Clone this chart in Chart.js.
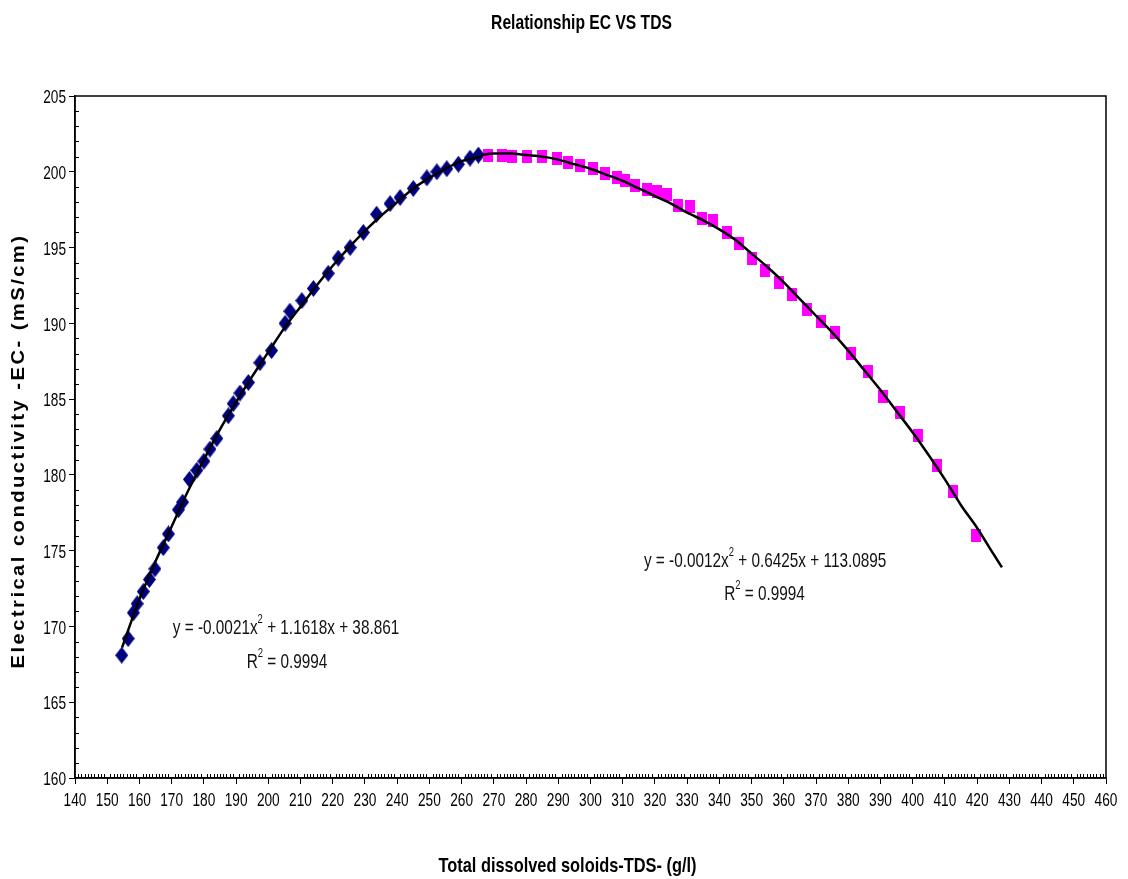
<!DOCTYPE html>
<html>
<head>
<meta charset="utf-8">
<script src="https://cdn.jsdelivr.net/npm/chart.js@4/dist/chart.umd.min.js"></script>
<style>
html,body{margin:0;padding:0;background:#fff;}
#wrap{width:1128px;height:879px;}
</style>
</head>
<body>
<div id="wrap"><canvas id="c" width="1128" height="879"></canvas></div>
<script>
// ---- data ----
const blueTDS = [154.5,156.5,158.1,159.3,161.2,163.1,164.8,167.4,169.0,172.1,173.4,175.5,177.8,180.0,181.9,184.0,187.6,189.1,191.2,193.8,197.4,201.0,205.2,206.7,210.4,214.0,218.6,221.7,225.4,229.5,233.6,237.8,240.9,245.0,249.2,252.3,255.4,259.0,262.6,265.2];
const blueEC  = [168.1,169.2,170.9,171.5,172.3,173.1,173.8,175.2,176.1,177.7,178.2,179.7,180.3,180.9,181.7,182.4,183.9,184.7,185.4,186.1,187.4,188.2,190.0,190.8,191.5,192.3,193.3,194.3,195.0,196.0,197.2,197.9,198.3,198.9,199.6,200.0,200.2,200.5,200.9,201.1];

const pinkTDS = [268.2,272.5,275.6,280.3,284.9,289.6,293.0,296.7,300.8,304.5,308.2,310.7,313.8,317.5,320.6,323.7,327.1,330.9,334.6,338.0,342.4,346.1,350.1,354.2,358.5,362.5,367.2,371.5,375.9,380.8,386.1,390.8,396.0,401.6,407.5,412.5,419.6];
const pinkEC  = [201.1,201.1,201.0,201.0,201.0,200.9,200.6,200.4,200.2,199.9,199.6,199.4,199.1,198.8,198.7,198.5,197.8,197.7,196.9,196.8,196.0,195.3,194.3,193.5,192.7,191.9,190.9,190.1,189.4,188.0,186.8,185.2,184.1,182.6,180.6,178.9,176.0];

// trend lines as traced on the picture
const trendLeftTDS  = [154.6,160,165,170,175,180,185,190,195,200,205,210,215,220,225,230,235,240,245,250,255,260,266];
const trendLeftEC   = [168.6,171.8,174.3,176.6,178.9,181.0,183.0,184.8,186.5,188.1,189.7,191.1,192.5,193.8,195.0,196.1,197.1,198.0,198.9,199.6,200.2,200.7,201.0];
const trendRightTDS = [266,270,275,280,285,290,295,300,305,310,315,320,325,330,335,340,345,350,355,360,365,370,375,380,385,390,395,400,405,410,415,420,425,427.7];
const trendRightEC  = [201.1,201.2,201.2,201.1,201.0,200.8,200.5,200.2,199.8,199.4,198.9,198.4,197.9,197.3,196.8,196.2,195.5,194.6,193.7,192.7,191.6,190.5,189.4,188.2,186.9,185.6,184.2,182.8,181.3,179.7,178.0,176.5,174.8,173.9];

const xTickValues = [140,150,160,170,180,190,200,210,220,230,240,250,260,270,280,290,300,310,320,330,340,350,360,370,380,390,400,410,420,430,440,450,460];
const yTickValues = [160,165,170,175,180,185,190,195,200,205];

const titleText  = 'Relationship EC VS TDS';
const xTitleText = 'Total dissolved soloids-TDS- (g/l)';
const yTitleText = 'Electrical conductivity -EC- (mS/cm)';
const eqLeft  = [['y = -0.0021x','2',' + 1.1618x + 38.861'], ['R','2',' = 0.9994']];
const eqRight = [['y = -0.0012x','2',' + 0.6425x + 113.0895'], ['R','2',' = 0.9994']];

// ---- styling / layout ----
const FONT = '"Liberation Sans", Arial, sans-serif';
const eqAnchors = [
  {lines: eqLeft,  at: [[205.5,169.9],[205.8,167.65]]},
  {lines: eqRight, at: [[354.2,174.3],[354.0,172.1]]}
];

function toPts(xs, ys){ return xs.map((v,i)=>({x:v, y:ys[i]})); }

function makeDiamond(w,h,color){
  const c=document.createElement('canvas'); c.width=w; c.height=h;
  const g=c.getContext('2d'); g.fillStyle=color; g.beginPath();
  g.moveTo(w/2,0); g.lineTo(w,h/2); g.lineTo(w/2,h); g.lineTo(0,h/2); g.closePath(); g.fill();
  return c;
}
function makeRect(w,h,color){
  const c=document.createElement('canvas'); c.width=w; c.height=h;
  const g=c.getContext('2d'); g.fillStyle=color; g.fillRect(0,0,w,h);
  return c;
}
const diamond = makeDiamond(13,17,'#000080');
const square  = makeRect(10,13,'#FF00FF');

// draw text squeezed horizontally (the reference uses a tall narrow face)
function sText(ctx, text, x, y, font, sx, align){
  ctx.save();
  ctx.font = font;
  ctx.translate(x, y);
  ctx.scale(sx, 1);
  ctx.textAlign = align || 'center';
  ctx.textBaseline = 'middle';
  ctx.fillText(text, 0, 0);
  ctx.restore();
}
// piecewise text with superscript pieces (odd index)
function eqText(ctx, parts, cx, cy, size, sx){
  ctx.save();
  const main = size+'px '+FONT, sup = Math.round(size*0.62)+'px '+FONT;
  let total = 0;
  parts.forEach((p,i)=>{ ctx.font = (i%2)? sup : main; total += ctx.measureText(p).width; });
  let x = cx - total*sx/2;
  parts.forEach((p,i)=>{
    ctx.font = (i%2)? sup : main;
    const w = ctx.measureText(p).width;
    ctx.save();
    ctx.translate(x, (i%2)? cy - size*0.42 : cy);
    ctx.scale(sx,1);
    ctx.textAlign='left'; ctx.textBaseline='middle';
    ctx.fillText(p,0,0);
    ctx.restore();
    x += w*sx;
  });
  ctx.restore();
}

const decor = {
  id:'decor',
  afterDraw(chart){
    const {ctx, chartArea:a, scales:{x,y}} = chart;
    ctx.save();
    ctx.strokeStyle='#000'; ctx.lineWidth=1;
    const ymin=yTickValues[0], ymax=yTickValues[yTickValues.length-1];
    for(let v=ymin; v<=ymax; v++){
      if(v%5===0) continue;
      const py=Math.round(y.getPixelForValue(v))+0.5;
      ctx.beginPath(); ctx.moveTo(a.left,py); ctx.lineTo(a.left+4,py); ctx.stroke();
    }
    const xmin=xTickValues[0], xmax=xTickValues[xTickValues.length-1];
    for(let v=xmin; v<=xmax; v++){
      if(v%10===0) continue;
      const px=Math.round(x.getPixelForValue(v))+0.5;
      ctx.beginPath(); ctx.moveTo(px,a.bottom); ctx.lineTo(px,a.bottom-4); ctx.stroke();
    }
    ctx.lineWidth=1.5;
    ctx.strokeRect(a.left,a.top,a.right-a.left,a.bottom-a.top);

    ctx.fillStyle='#000';
    // tick labels, placed by the library scales
    x.ticks.forEach(t=>{
      sText(ctx, String(t.value), x.getPixelForValue(t.value), a.bottom+23, '19px '+FONT, 0.72, 'center');
    });
    y.ticks.forEach(t=>{
      sText(ctx, String(t.value), a.left-9, y.getPixelForValue(t.value)+2, '19px '+FONT, 0.72, 'right');
    });
    // chart title & x title
    sText(ctx, titleText, (a.left+a.right)/2 - 9, 23, 'bold 21px '+FONT, 0.745, 'center');
    sText(ctx, xTitleText, (a.left+a.right)/2 - 23, 866, 'bold 21px '+FONT, 0.78, 'center');
    // equations
    ctx.fillStyle='#111';
    eqAnchors.forEach(e=>{
      e.lines.forEach((parts,i)=>{
        eqText(ctx, parts, x.getPixelForValue(e.at[i][0]), y.getPixelForValue(e.at[i][1]), 21, 0.73);
      });
    });
    // y axis title
    ctx.save();
    ctx.translate(19, (a.top+a.bottom)/2 + 14);
    ctx.rotate(-Math.PI/2);
    ctx.scale(1.12,1);
    ctx.font='bold 18px '+FONT;
    try{ ctx.letterSpacing='2.2px'; }catch(e){}
    ctx.fillStyle='#000';
    ctx.textAlign='center'; ctx.textBaseline='middle';
    ctx.fillText(yTitleText,0,0);
    ctx.restore();
    ctx.restore();
  }
};

new Chart(document.getElementById('c'), {
  type:'scatter',
  data:{
    datasets:[
      {label:'fitL', data:toPts(trendLeftTDS,trendLeftEC), showLine:true, borderColor:'#000', borderWidth:2.5, pointRadius:0, tension:0.3, order:0},
      {label:'fitR', data:toPts(trendRightTDS,trendRightEC), showLine:true, borderColor:'#000', borderWidth:2.5, pointRadius:0, tension:0.3, order:0},
      {label:'EC (TDS < 266)', data:toPts(blueTDS,blueEC), pointStyle:diamond, pointRadius:6, backgroundColor:'#000080', borderWidth:0, order:2},
      {label:'EC (TDS > 266)', data:toPts(pinkTDS,pinkEC), pointStyle:square, pointRadius:6, backgroundColor:'#FF00FF', borderWidth:0, order:1}
    ]
  },
  options:{
    responsive:false,
    animation:false,
    devicePixelRatio:1,
    layout:{padding:{left:0,right:22,top:96,bottom:0}},
    plugins:{
      legend:{display:false},
      tooltip:{enabled:false},
      title:{display:false}
    },
    scales:{
      x:{
        type:'linear', min:140, max:460,
        afterBuildTicks:(s)=>{ s.ticks = xTickValues.map(v=>({value:v})); },
        afterFit:(s)=>{ s.height=101; },
        grid:{drawOnChartArea:false, drawTicks:true, tickLength:6, color:'#000', lineWidth:1},
        border:{display:true, color:'#000', width:1.5},
        ticks:{display:false}
      },
      y:{
        type:'linear', min:160, max:205,
        afterBuildTicks:(s)=>{ s.ticks = yTickValues.map(v=>({value:v})); },
        afterFit:(s)=>{ s.width=75; },
        grid:{drawOnChartArea:false, drawTicks:true, tickLength:6, color:'#000', lineWidth:1},
        border:{display:true, color:'#000', width:1.5},
        ticks:{display:false}
      }
    }
  },
  plugins:[decor]
});
</script>
</body>
</html>
